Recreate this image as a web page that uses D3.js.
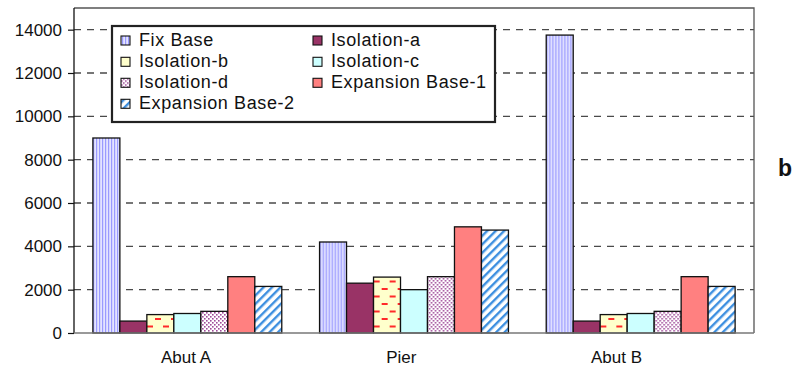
<!DOCTYPE html>
<html>
<head>
<meta charset="utf-8">
<script src="https://cdn.jsdelivr.net/npm/d3@7"></script>
<style>
  html, body { margin: 0; padding: 0; background: #fff; }
  svg { display: block; font-family: "Liberation Sans", Arial, sans-serif; }
</style>
</head>
<body>
<svg id="chart" width="795" height="378"></svg>
<script>
// Locations along the bridge
const categories = ["Abut A", "Pier", "Abut B"];
// Support configurations
const series = ["Fix Base", "Isolation-a", "Isolation-b", "Isolation-c", "Isolation-d", "Expansion Base-1", "Expansion Base-2"];
// Values per configuration, in category order
const fixBase        = [9000, 4200, 13750];
const isolationA     = [550, 2300, 550];
const isolationB     = [850, 2580, 850];
const isolationC     = [900, 2000, 900];
const isolationD     = [1000, 2600, 1000];
const expansionBase1 = [2600, 4900, 2600];
const expansionBase2 = [2150, 4750, 2150];
const seriesValues = [fixBase, isolationA, isolationB, isolationC, isolationD, expansionBase1, expansionBase2];
const yTicks = [0, 2000, 4000, 6000, 8000, 10000, 12000, 14000];
const panelLabel = "b";

const svg = d3.select("#chart");
const plot = { left: 74, top: 8, right: 754, bottom: 333 };
const W = plot.right - plot.left, H = plot.bottom - plot.top;

// Fill patterns
const defs = svg.append("defs");
function pattern(id, w, h, draw) {
  const p = defs.append("pattern").attr("id", id).attr("patternUnits", "userSpaceOnUse")
    .attr("width", w).attr("height", h);
  draw(p);
}
pattern("pFix", 3, 10, p => {
  p.append("rect").attr("width", 3).attr("height", 10).attr("fill", "#e4e4ff");
  p.append("rect").attr("x", 1).attr("width", 1.2).attr("height", 10).attr("fill", "#9a9aff");
});
pattern("pIsoB", 16, 15, p => {
  p.append("rect").attr("width", 16).attr("height", 15).attr("fill", "#ffffcc");
  p.append("rect").attr("x", 1).attr("y", 3).attr("width", 6).attr("height", 2).attr("fill", "#ff2a2a");
  p.append("rect").attr("x", 9).attr("y", 10.5).attr("width", 6).attr("height", 2).attr("fill", "#ff2a2a");
});
pattern("pIsoD", 4, 4, p => {
  p.append("rect").attr("width", 4).attr("height", 4).attr("fill", "#ffffff");
  p.append("rect").attr("x", 0).attr("y", 0).attr("width", 1.6).attr("height", 1.6).attr("fill", "#a04c9a");
  p.append("rect").attr("x", 2).attr("y", 2).attr("width", 1.6).attr("height", 1.6).attr("fill", "#a04c9a");
});
pattern("pExp2", 6, 6, p => {
  p.attr("patternTransform", "rotate(45)");
  p.append("rect").attr("width", 6).attr("height", 6).attr("fill", "#ffffff");
  p.append("rect").attr("x", 0).attr("width", 2.4).attr("height", 6).attr("fill", "#3d8fe0");
});
const fills = ["url(#pFix)", "#993366", "url(#pIsoB)", "#ccffff", "url(#pIsoD)", "#ff8080", "url(#pExp2)"];

// Scales
const y = d3.scaleLinear().domain([0, 15000]).range([plot.bottom, plot.top]);
const x0 = d3.scaleBand().domain(categories).range([plot.left, plot.right]).padding(0);
const x1 = d3.scaleBand().domain(series).range([0, x0.bandwidth()]).paddingInner(0).paddingOuter(0.7);
const xLabel = d3.scalePoint().domain(categories).range([plot.left + W * 0.164, plot.left + W * 0.797]);

// Gridlines
svg.append("g")
  .selectAll("line").data(yTicks.filter(d => d > 0)).join("line")
  .attr("x1", plot.left).attr("x2", plot.right)
  .attr("y1", d => y(d)).attr("y2", d => y(d))
  .attr("stroke", "#4a4a4a").attr("stroke-width", 1.3).attr("stroke-dasharray", "7,6");

// Plot frame: top and right
svg.append("path")
  .attr("d", `M${plot.left},${plot.top}H${plot.right}V${plot.bottom}`)
  .attr("fill", "none").attr("stroke", "#555").attr("stroke-width", 1.3);

// Bars
const groups = svg.append("g").selectAll("g").data(categories).join("g")
  .attr("transform", d => `translate(${x0(d)},0)`);
groups.selectAll("rect")
  .data((c, ci) => series.map((s, si) => ({ s, si, v: seriesValues[si][ci] })))
  .join("rect")
  .attr("x", d => x1(d.s)).attr("width", x1.bandwidth())
  .attr("y", d => y(d.v)).attr("height", d => y(0) - y(d.v))
  .attr("fill", d => fills[d.si])
  .attr("stroke", "#111").attr("stroke-width", 1.3);

// Y axis
const yAxis = svg.append("g").attr("transform", `translate(${plot.left},0)`)
  .call(d3.axisLeft(y).tickValues(yTicks).tickSize(6).tickPadding(6).tickFormat(d3.format("d")));
yAxis.select(".domain").attr("stroke", "#111").attr("stroke-width", 1.3)
  .attr("d", `M0,${plot.top}V${plot.bottom}`);
yAxis.selectAll(".tick line").attr("stroke", "#111").attr("stroke-width", 1.2);
yAxis.selectAll(".tick text").attr("font-size", 17).attr("fill", "#111")
  .attr("font-family", "'Liberation Sans', Arial, sans-serif");

// Baseline
svg.append("line").attr("x1", plot.left).attr("x2", plot.right)
  .attr("y1", plot.bottom).attr("y2", plot.bottom)
  .attr("stroke", "#777").attr("stroke-width", 1.5);

// Category labels
const xAxis = svg.append("g").attr("transform", `translate(0,${plot.bottom})`)
  .call(d3.axisBottom(xLabel).tickSize(0).tickPadding(18));
xAxis.select(".domain").remove();
xAxis.selectAll(".tick text").attr("font-size", 17).attr("fill", "#111")
  .attr("font-family", "'Liberation Sans', Arial, sans-serif");

// Legend
const legend = svg.append("g").attr("transform", "translate(112,26)");
legend.append("rect").attr("width", 383).attr("height", 96)
  .attr("fill", "#fff").attr("stroke", "#222").attr("stroke-width", 2.2);
const cols = [9, 201], rows = [20, 41.3, 62.3, 83.3];
const legendPos = [[0, 0], [1, 0], [0, 1], [1, 1], [0, 2], [1, 2], [0, 3]];
const items = legend.selectAll("g.item").data(series).join("g").attr("class", "item")
  .attr("transform", (d, i) => `translate(${cols[legendPos[i][0]]},${rows[legendPos[i][1]]})`);
items.append("rect").attr("x", 0).attr("y", -10).attr("width", 9).attr("height", 9)
  .attr("fill", (d, i) => fills[i]).attr("stroke", "#111").attr("stroke-width", 1.1);
items.append("text").attr("x", 18).attr("y", 0).attr("font-size", 18).attr("fill", "#111")
  .attr("letter-spacing", 0.6).text(d => d);

// Panel label
svg.append("text").attr("x", 778).attr("y", 176).attr("font-size", 23).attr("font-weight", "bold")
  .attr("fill", "#111").text(panelLabel);
</script>
</body>
</html>
